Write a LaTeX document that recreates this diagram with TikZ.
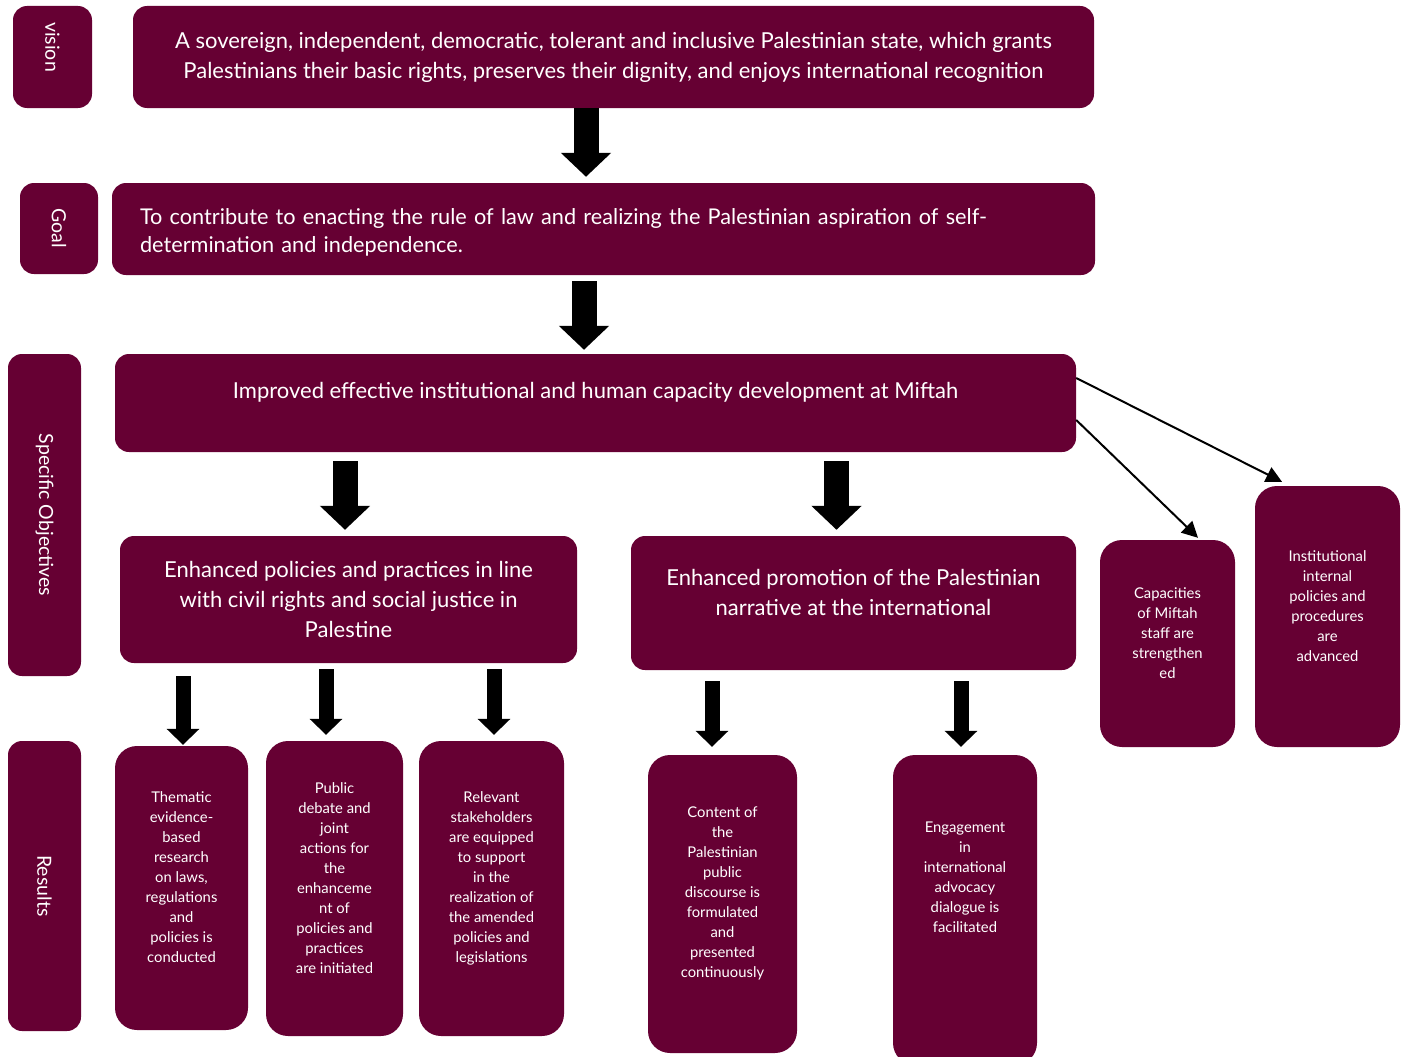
\documentclass[tikz,border=0pt]{standalone}
\usepackage{fontspec}
\setmainfont{Lato}
\usetikzlibrary{arrows.meta,positioning}
\definecolor{miftah}{RGB}{102,0,51}
\newcommand\mfbig{\fontsize{22}{30}\selectfont}
\newcommand\mfgoal{\fontsize{21.7}{28}\selectfont}
\newcommand\mfsmall{\fontsize{14.8}{20}\selectfont}
\newcommand\mflab{\fontsize{19.5}{22}\selectfont}

\begin{document}
\begin{tikzpicture}[
	x = 1pt, y = -1pt,
	box/.style = {fill=miftah, rounded corners=14pt, inner sep=0pt, text=white, align=center, font=\mfbig},
	tallbox/.style = {box, rounded corners=22pt},
	lab/.style = {box, rotate=-90, font=\mflab},
	boxtext/.style = {text=white, align=center, inner sep=0pt, font=\mfsmall},
	blockarrow/.style = {line width=25pt, -{Triangle[width=49pt,length=24pt]}},
	smallarrow/.style = {line width=15pt, -{Triangle[width=32pt,length=16pt]}},
	thinarrow/.style = {line width=2pt, -{Triangle[width=16pt,length=16pt]}}
	]
	\useasboundingbox (0,0) rectangle (1408,1057);

	% row labels
	\node[lab, minimum width=102pt, minimum height=79pt] (vislab) at (52.5,57) {};
	\node[boxtext, rotate=-90, font=\mflab] (vislab-text) at ([yshift=10pt]vislab.center) {vision};
	\node[lab, minimum width=91pt, minimum height=78pt] (goallab) at (59,228.5) {Goal};
	\node[lab, minimum width=322pt, minimum height=73pt] (solab) at (44.5,515) {Specific Objectives};
	\node[lab, minimum width=290pt, minimum height=73pt] (reslab) at (44.5,886) {Results};

	% vision and goal
	\node[box, minimum width=961pt, minimum height=102pt] (vision) at (613.5,57) {A sovereign, independent, democratic, tolerant and inclusive Palestinian state, which grants\\Palestinians their basic rights, preserves their dignity, and enjoys international recognition};
	\node[box, minimum width=983pt, minimum height=92pt] (goal) at (603.5,229) {};
	\node[boxtext, text width=927pt, align=left, font=\mfgoal] (goal-text) at ([yshift=-3pt]goal.center) {To contribute to enacting the rule of law and realizing the Palestinian aspiration of self-\\determination and independence.};

	% specific objectives
	\node[box, minimum width=961pt, minimum height=98pt] (so) at (595.5,403) {};
	\node[boxtext, font=\mfbig] (so-text) at ([yshift=11pt]so.center) {Improved effective institutional and human capacity development at Miftah};
	\node[box, minimum width=457pt, minimum height=127pt] (oa) at (348.5,599.5) {Enhanced policies and practices in line\\with civil rights and social justice in\\Palestine};
	\node[box, minimum width=445pt, minimum height=134pt] (ob) at (853.5,603) {};
	\node[boxtext, font=\mfbig] (ob-text) at ([yshift=10.5pt]ob.center) {Enhanced promotion of the Palestinian\\narrative at the international};
	\node[tallbox, minimum width=135pt, minimum height=207pt] (oc) at (1167.5,643.5) {};
	\node[boxtext] (oc-text) at ([yshift=10pt]oc.center) {Capacities\\of Miftah\\staff are\\strengthen\\ed};
	\node[tallbox, minimum width=145pt, minimum height=261pt] (od) at (1327.5,616.5) {};
	\node[boxtext] (od-text) at ([yshift=10.5pt]od.center) {Institutional\\internal\\policies and\\procedures\\are\\advanced};

	% results
	\node[tallbox, minimum width=133pt, minimum height=284pt] (r1) at (181.5,888) {};
	\node[boxtext] (r1-text) at ([yshift=10.5pt]r1.center) {Thematic\\evidence-\\based\\research\\on laws,\\regulations\\and\\policies is\\conducted};
	\node[tallbox, minimum width=137pt, minimum height=295pt] (r2) at (334.5,888.5) {};
	\node[boxtext] (r2-text) at ([yshift=10.5pt]r2.center) {Public\\debate and\\joint\\actions for\\the\\enhanceme\\nt of\\policies and\\practices\\are initiated};
	\node[tallbox, minimum width=145pt, minimum height=295pt] (r3) at (491.5,888.5) {};
	\node[boxtext] (r3-text) at ([yshift=10.5pt]r3.center) {Relevant\\stakeholders\\are equipped\\to support\\in the\\realization of\\the amended\\policies and\\legislations};
	\node[tallbox, minimum width=149pt, minimum height=298pt] (r4) at (722.5,904) {};
	\node[boxtext] (r4-text) at ([yshift=11pt]r4.center) {Content of\\the\\Palestinian\\public\\discourse is\\formulated\\and\\presented\\continuously};
	\node[tallbox, minimum width=144pt, minimum height=310pt] (r5) at (965,910) {};
	\node[boxtext] (r5-text) at ([yshift=33pt]r5.center) {Engagement\\in\\international\\advocacy\\dialogue is\\facilitated};

	% arrows
	\draw[blockarrow, shorten >=6pt] ([xshift=-27.5pt]vision.south) -- ([xshift=-17.5pt]goal.north);
	\draw[blockarrow, shorten <=6pt, shorten >=4pt] ([xshift=-19.5pt]goal.south) -- ([xshift=-11.5pt]so.north);
	\draw[blockarrow, shorten <=9pt, shorten >=6pt] ([xshift=-250.5pt]so.south) -- ([xshift=-3.5pt]oa.north);
	\draw[blockarrow, shorten <=9pt, shorten >=6pt] ([xshift=241pt]so.south) -- ([xshift=-17pt]ob.north);

	\draw[smallarrow, shorten <=13pt, shorten >=1pt] ([xshift=1.5pt]r1.north |- oa.south) -- ([xshift=1.5pt]r1.north);
	\draw[smallarrow, shorten <=6pt, shorten >=6pt] ([xshift=-8.5pt]r2.north |- oa.south) -- ([xshift=-8.5pt]r2.north);
	\draw[smallarrow, shorten <=6pt, shorten >=6pt] ([xshift=2.5pt]r3.north |- oa.south) -- ([xshift=2.5pt]r3.north);
	\draw[smallarrow, shorten <=11pt, shorten >=8pt] ([xshift=-10.5pt]r4.north |- ob.south) -- ([xshift=-10.5pt]r4.north);
	\draw[smallarrow, shorten <=11pt, shorten >=8pt] ([xshift=-4pt]r5.north |- ob.south) -- ([xshift=-4pt]r5.north);

	\draw[thinarrow] ([yshift=25pt]so.east) -- ([xshift=-45.5pt,yshift=4pt]od.north);
	\draw[thinarrow] ([yshift=-17pt]so.east) -- ([xshift=30.5pt,yshift=2pt]oc.north);
\end{tikzpicture}
\end{document}
